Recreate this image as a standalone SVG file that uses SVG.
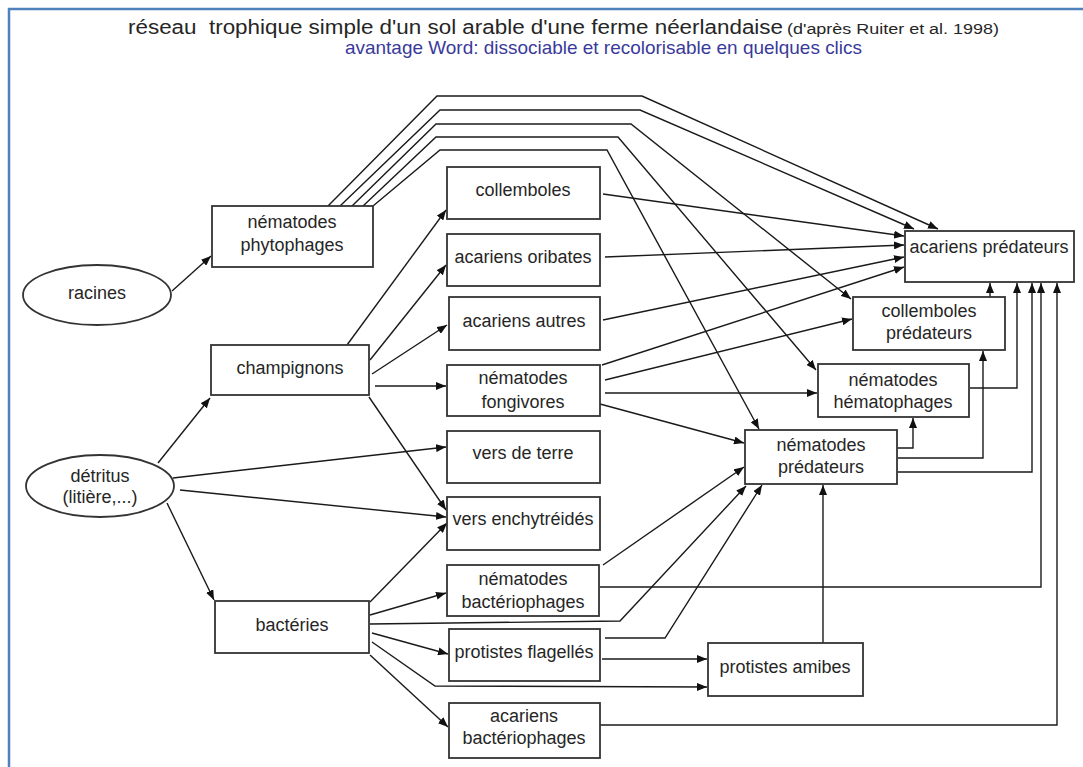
<svg xmlns="http://www.w3.org/2000/svg" width="1083" height="767" viewBox="0 0 1083 767">
<defs>
<marker id="ah" markerUnits="userSpaceOnUse" markerWidth="10" markerHeight="8" refX="10" refY="4" orient="auto">
<path d="M0,0 L10,4 L0,8 z" fill="#111"/>
</marker>
<style>
.box{fill:#fff;stroke:#333;stroke-width:1.8}
.t{font-family:"Liberation Sans",Arial,sans-serif;font-size:18px;fill:#262626;text-anchor:middle}
.c path{fill:none;stroke:#1a1a1a;stroke-width:1.4;marker-end:url(#ah)}
.ttl{font-family:"Liberation Sans",Arial,sans-serif;fill:#262626}
</style>
</defs>
<rect width="1083" height="767" fill="#fff"/>
<path d="M9,767 V9 H1083" fill="none" stroke="#4f81bd" stroke-width="2.5"/>
<text class="ttl" x="128" y="34" font-size="20" textLength="655" lengthAdjust="spacingAndGlyphs" xml:space="preserve">réseau  trophique simple d'un sol arable d'une ferme néerlandaise</text>
<text class="ttl" x="787" y="34" font-size="14" textLength="212" lengthAdjust="spacingAndGlyphs">(d'après Ruiter et al. 1998)</text>
<text class="ttl" x="345" y="54" font-size="19" style="fill:#3a3a9a" textLength="517" lengthAdjust="spacingAndGlyphs">avantage Word: dissociable et recolorisable en quelques clics</text>

<g id="connectors" class="c">
<path d="M328,206 L437,96 L642,96 L938,229"/>
<path d="M340,206 L440,110 L640,110 L914,229"/>
<path d="M352,206 L436,124 L631,124 L851,299"/>
<path d="M363,206 L436,137 L618,137 L816,370"/>
<path d="M373,206 L440,150 L607,150 L759,429"/>
<path d="M172,291 L211,256"/>
<path d="M158,463 L210,398"/>
<path d="M173,478 L446,447"/>
<path d="M180,490 L446,517"/>
<path d="M167,503 L214,600"/>
<path d="M347,345 L446,210"/>
<path d="M370,360 L446,265"/>
<path d="M372,374 L447,325"/>
<path d="M375,386 L446,386"/>
<path d="M369,397 L446,510"/>
<path d="M370,602 L447,523"/>
<path d="M370,615 L446,593"/>
<path d="M370,624 L620,621 L746,486"/>
<path d="M372,633 L448,654"/>
<path d="M372,642 L435,686 L707,687"/>
<path d="M370,655 L448,727"/>
<path d="M603,194 L904,236"/>
<path d="M605,257 L904,245"/>
<path d="M603,320 L904,257"/>
<path d="M602,365 L904,267"/>
<path d="M605,380 L852,319"/>
<path d="M605,393 L817,393"/>
<path d="M600,404 L744,443"/>
<path d="M603,565 L744,467"/>
<path d="M605,638 L665,638 L762,485"/>
<path d="M602,659 L707,659"/>
<path d="M823,643 L823,485"/>
<path d="M898,448 L913,448 L913,418"/>
<path d="M898,458 L983,458 L983,351"/>
<path d="M898,472 L1032,472 L1032,283"/>
<path d="M970,388 L1017,388 L1017,283"/>
<path d="M990,297 L990,283"/>
<path d="M600,587 L1041,587 L1041,283"/>
<path d="M600,725 L1057,725 L1057,283"/>
</g>

<g id="racines"><ellipse class="box" cx="97" cy="295" rx="74" ry="30"/><text class="t" x="97" y="299">racines</text></g>
<g id="detritus"><ellipse class="box" cx="100" cy="486" rx="74" ry="31"/><text class="t" x="100" y="482">détritus</text><text class="t" x="100" y="503">(litière,...)</text></g>
<g id="nematodes-phytophages"><rect class="box" x="212" y="206" width="161" height="61"/><text class="t" x="292" y="228">nématodes</text><text class="t" x="292" y="251">phytophages</text></g>
<g id="champignons"><rect class="box" x="211" y="345" width="158" height="50"/><text class="t" x="290" y="374">champignons</text></g>
<g id="bacteries"><rect class="box" x="215" y="601" width="154" height="52"/><text class="t" x="292" y="631">bactéries</text></g>
<g id="collemboles"><rect class="box" x="447" y="167" width="153" height="52"/><text class="t" x="523" y="196">collemboles</text></g>
<g id="acariens-oribates"><rect class="box" x="447" y="234" width="153" height="52"/><text class="t" x="523" y="263">acariens oribates</text></g>
<g id="acariens-autres"><rect class="box" x="449" y="297" width="151" height="53"/><text class="t" x="524" y="327">acariens autres</text></g>
<g id="nematodes-fongivores"><rect class="box" x="447" y="365" width="153" height="51"/><text class="t" x="523" y="384">nématodes</text><text class="t" x="523" y="408">fongivores</text></g>
<g id="vers-de-terre"><rect class="box" x="447" y="431" width="153" height="52"/><text class="t" x="523" y="459">vers de terre</text></g>
<g id="vers-enchytreides"><rect class="box" x="447" y="497" width="153" height="53"/><text class="t" x="523" y="525">vers enchytréidés</text></g>
<g id="nematodes-bacteriophages"><rect class="box" x="447" y="565" width="152" height="51"/><text class="t" x="523" y="585">nématodes</text><text class="t" x="523" y="608">bactériophages</text></g>
<g id="protistes-flagelles"><rect class="box" x="449" y="629" width="151" height="52"/><text class="t" x="524" y="658">protistes flagellés</text></g>
<g id="acariens-bacteriophages"><rect class="box" x="449" y="703" width="151" height="55"/><text class="t" x="524" y="722">acariens</text><text class="t" x="524" y="744">bactériophages</text></g>
<g id="protistes-amibes"><rect class="box" x="708" y="643" width="155" height="53"/><text class="t" x="785" y="673">protistes amibes</text></g>
<g id="nematodes-predateurs"><rect class="box" x="745" y="430" width="152" height="54"/><text class="t" x="821" y="451">nématodes</text><text class="t" x="821" y="473">prédateurs</text></g>
<g id="nematodes-hematophages"><rect class="box" x="818" y="364" width="151" height="53"/><text class="t" x="893" y="386">nématodes</text><text class="t" x="893" y="408">hématophages</text></g>
<g id="collemboles-predateurs"><rect class="box" x="853" y="297" width="152" height="53"/><text class="t" x="929" y="317">collemboles</text><text class="t" x="929" y="339">prédateurs</text></g>
<g id="acariens-predateurs"><rect class="box" x="905" y="231" width="169" height="51"/><text class="t" x="989" y="253">acariens prédateurs</text></g>
</svg>
